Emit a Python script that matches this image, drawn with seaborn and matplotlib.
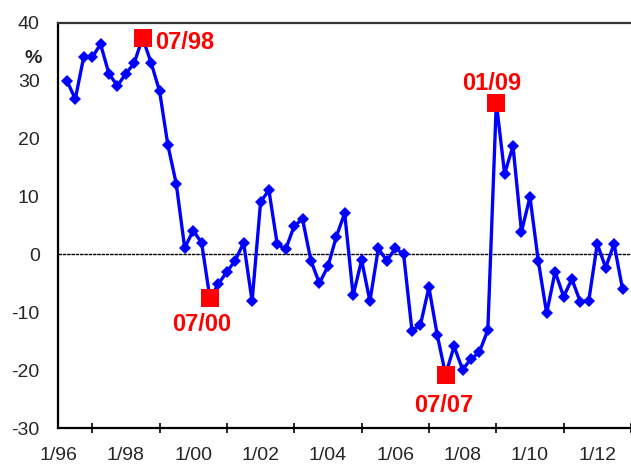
import pandas as pd
import matplotlib
matplotlib.use('Agg')
import matplotlib.pyplot as plt
import seaborn as sns

# ---------- DATA ----------
# quarterly values, first quarter = 04/96, last = 10/12
start_date = '1996-04-01'
values = [30.0, 26.8, 34.1, 34.0, 36.3, 31.2, 29.1, 31.2, 33.0, 37.4,
          33.1, 28.2, 18.9, 12.2, 1.1, 4.1, 2.0, -7.6, -5.1, -3.0,
          -1.1, 2.0, -8.1, 9.0, 11.1, 1.7, 0.9, 4.9, 6.1, -1.1,
          -5.0, -2.1, 3.0, 7.1, -7.1, -1.0, -8.1, 1.0, -1.1, 1.0,
          0.1, -13.2, -12.2, -5.7, -13.9, -20.8, -15.9, -19.9, -18.1, -16.9,
          -13.1, 26.2, 13.9, 18.7, 3.9, 9.9, -1.1, -10.2, -3.0, -7.3,
          -4.3, -8.2, -8.0, 1.8, -2.3, 1.8, -6.0]

highlight_dates = ['1998-07-01', '2000-07-01', '2007-07-01', '2009-01-01']
highlight_labels = ['07/98', '07/00', '07/07', '01/09']

tick_dates = ['1996-01-01', '1998-01-01', '2000-01-01', '2002-01-01', '2004-01-01',
              '2006-01-01', '2008-01-01', '2010-01-01', '2012-01-01']
tick_labels = ['1/96', '1/98', '1/00', '1/02', '1/04', '1/06', '1/08', '1/10', '1/12']
minor_dates = ['1997-01-01', '1999-01-01', '2001-01-01', '2003-01-01', '2005-01-01',
               '2007-01-01', '2009-01-01', '2011-01-01', '2013-01-01']
y_ticks = [-30, -20, -10, 0, 10, 20, 30, 40]

df = pd.DataFrame({'date': pd.date_range(start_date, periods=len(values), freq='QS'),
                   'value': values})
hl = df[df['date'].isin(pd.to_datetime(highlight_dates))].copy()
hl['label'] = highlight_labels

# ---------- PLOT ----------
sns.set_style('white')
plt.rcParams['font.family'] = ['Liberation Sans', 'DejaVu Sans']
plt.rcParams['axes.unicode_minus'] = False

fig = plt.figure(figsize=(6.31, 4.67), dpi=100)
ax = fig.add_axes([0.0927, 0.0835, 0.9073, 0.868])

ax.axhline(0, color='black', lw=1.0, ls=(0, (2.5, 0.6)), zorder=1)

sns.lineplot(data=df, x='date', y='value', ax=ax, color='#0000ff', lw=2.4,
             marker='D', markersize=6.5, markeredgewidth=0, zorder=3)
sns.scatterplot(data=hl, x='date', y='value', ax=ax, color='#ff0000', marker='s',
                s=150, linewidth=0, zorder=4)

offsets = {'07/98': (9, -3.5, 'left'), '07/00': (-6, -19, 'center'),
           '07/07': (-1.5, -22, 'center'), '01/09': (-3, 13.5, 'center')}
for _, r in hl.iterrows():
    dx, dy, ha = offsets[r['label']]
    ax.annotate(r['label'], (r['date'], r['value']), xytext=(dx, dy),
                textcoords='offset points', ha=ha, va='center',
                color='#ff0000', fontsize=17, fontweight='bold')

ax.set_xlim(pd.Timestamp('1996-01-01'), pd.Timestamp('2013-01-01'))
ax.set_ylim(-30, 40)
ax.set_xticks(pd.to_datetime(tick_dates))
ax.set_xticklabels(tick_labels)
ax.set_xticks(pd.to_datetime(minor_dates), minor=True)
ax.set_yticks(y_ticks)
ax.set_xlabel('')
ax.set_ylabel('')

ax.tick_params(axis='both', which='major', direction='inout', length=9, width=1.2,
               labelsize=14, color='black')
ax.tick_params(axis='x', which='major', pad=9)
ax.tick_params(axis='y', which='major', pad=9)
ax.tick_params(axis='x', which='minor', direction='inout', length=7, width=1.2,
               bottom=True, color='black')

for s in ['left', 'bottom']:
    ax.spines[s].set_color('black')
    ax.spines[s].set_linewidth(1.6)
ax.spines['top'].set_color('#333333')
ax.spines['top'].set_linewidth(1.6)
ax.spines['right'].set_visible(False)

fig.text(0.052, 0.875, '%', fontsize=14, fontweight='bold', ha='center', va='center')

fig.savefig('out.png', dpi=100)
